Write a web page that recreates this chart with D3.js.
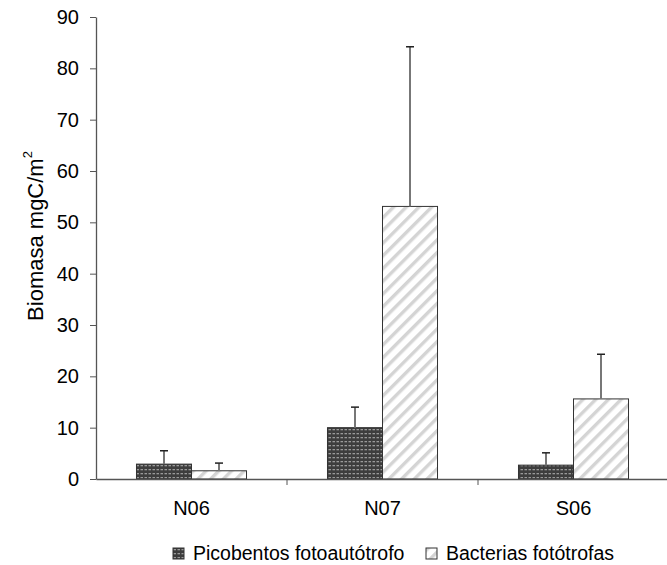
<!DOCTYPE html>
<html><head><meta charset="utf-8">
<script src="https://cdn.jsdelivr.net/npm/d3@7"></script>
<style>body{margin:0;background:#fff}svg{display:block;font-family:"Liberation Sans",Arial,sans-serif}</style>
</head><body><svg id="c" width="667" height="565"></svg>
<script>
const categories = ["N06","N07","S06"];
const seriesNames = ["Picobentos fotoautótrofo","Bacterias fotótrofas"];
const picoValues = [2.9, 10.0, 2.7];
const picoErrors = [2.6, 4.0, 2.4];
const bactValues = [1.6, 53.1, 15.6];
const bactErrors = [1.5, 31.1, 8.7];
const yTicks = [0,10,20,30,40,50,60,70,80,90];

const svg = d3.select("#c");
const m = {l:96, r:-2, t:17, b:86};
const W = 667, H = 565;
const FONT = "Liberation Sans, Arial, sans-serif";
const x = d3.scaleBand().domain(categories).range([m.l, W - m.r]).paddingInner(0).paddingOuter(0);
const xs = d3.scaleBand().domain(seriesNames).range([0, x.bandwidth()]).paddingInner(0).paddingOuter(0.736);
const y = d3.scaleLinear().domain([0,90]).range([H - m.b, m.t]);

const defs = svg.append("defs");
const p1 = defs.append("pattern").attr("id","pico").attr("patternUnits","userSpaceOnUse").attr("width",4).attr("height",4);
p1.append("rect").attr("width",4).attr("height",4).attr("fill","#3d3d3d");
p1.append("rect").attr("x",0.5).attr("y",1).attr("width",2.5).attr("height",1.3).attr("fill","#9a9a9a");
const p2 = defs.append("pattern").attr("id","bact").attr("patternUnits","userSpaceOnUse").attr("width",9).attr("height",9)
  .attr("patternTransform","rotate(45)");
p2.append("rect").attr("width",9).attr("height",9).attr("fill","#fff");
p2.append("rect").attr("x",0).attr("width",3.4).attr("height",9).attr("fill","#d4d4d4");

const series = [
  {name:seriesNames[0], vals:picoValues, errs:picoErrors, fill:"url(#pico)"},
  {name:seriesNames[1], vals:bactValues, errs:bactErrors, fill:"url(#bact)"}
];

// y axis
const yAxis = svg.append("g").attr("transform",`translate(${m.l},0)`)
  .call(d3.axisLeft(y).tickValues(yTicks).tickSize(6).tickSizeOuter(0).tickPadding(11));
yAxis.select(".domain").attr("stroke","#555").attr("stroke-width",1.3);
yAxis.selectAll(".tick line").attr("stroke","#555");
yAxis.selectAll(".tick text").attr("font-size",20).attr("fill","#000").attr("font-family",FONT);

// bars
series.forEach(s=>{
  svg.append("g").selectAll("rect").data(categories).join("rect")
    .attr("x", (d)=> x(d) + xs(s.name))
    .attr("width", xs.bandwidth())
    .attr("y", (d,i)=> y(s.vals[i]))
    .attr("height", (d,i)=> y(0) - y(s.vals[i]))
    .attr("fill", s.fill).attr("stroke","#333").attr("stroke-width",1);
  const eg = svg.append("g");
  categories.forEach((c,i)=>{
    const cx = x(c) + xs(s.name) + xs.bandwidth()/2;
    eg.append("line").attr("x1",cx).attr("x2",cx).attr("y1",y(s.vals[i])).attr("y2",y(s.vals[i]+s.errs[i]))
      .attr("stroke","#777").attr("stroke-width",2);
    eg.append("line").attr("x1",cx-4).attr("x2",cx+4).attr("y1",y(s.vals[i]+s.errs[i])).attr("y2",y(s.vals[i]+s.errs[i]))
      .attr("stroke","#222").attr("stroke-width",1.5);
  });
});

// x axis
const xAxis = svg.append("g").attr("transform",`translate(0,${y(0)})`)
  .call(d3.axisBottom(x).tickSize(0).tickPadding(22));
xAxis.select(".domain").attr("stroke","#555").attr("stroke-width",1.3);
xAxis.selectAll(".tick text").attr("font-size",20).attr("fill","#000").attr("font-family",FONT);
svg.append("g").selectAll("line").data(categories.slice(1)).join("line")
  .attr("x1",d=>x(d)).attr("x2",d=>x(d)).attr("y1",y(0)).attr("y2",y(0)+6).attr("stroke","#555");

// y label
svg.append("text").attr("transform",`translate(43,236) rotate(-90)`)
  .attr("text-anchor","middle").attr("font-size",22).attr("fill","#000").attr("font-family",FONT)
  .html('Biomasa mgC/m<tspan dy="-11" font-size="13">2</tspan>');

// legend
const legX = [173, 426];
series.forEach((s,i)=>{
  const g = svg.append("g").attr("transform",`translate(${legX[i]},548)`);
  g.append("rect").attr("width",11).attr("height",11).attr("fill",s.fill).attr("stroke","#333").attr("stroke-width",1);
  g.append("text").attr("x",20).attr("y",12).attr("font-size",19.5).attr("fill","#000").attr("font-family",FONT).text(s.name);
});
</script></body></html>
